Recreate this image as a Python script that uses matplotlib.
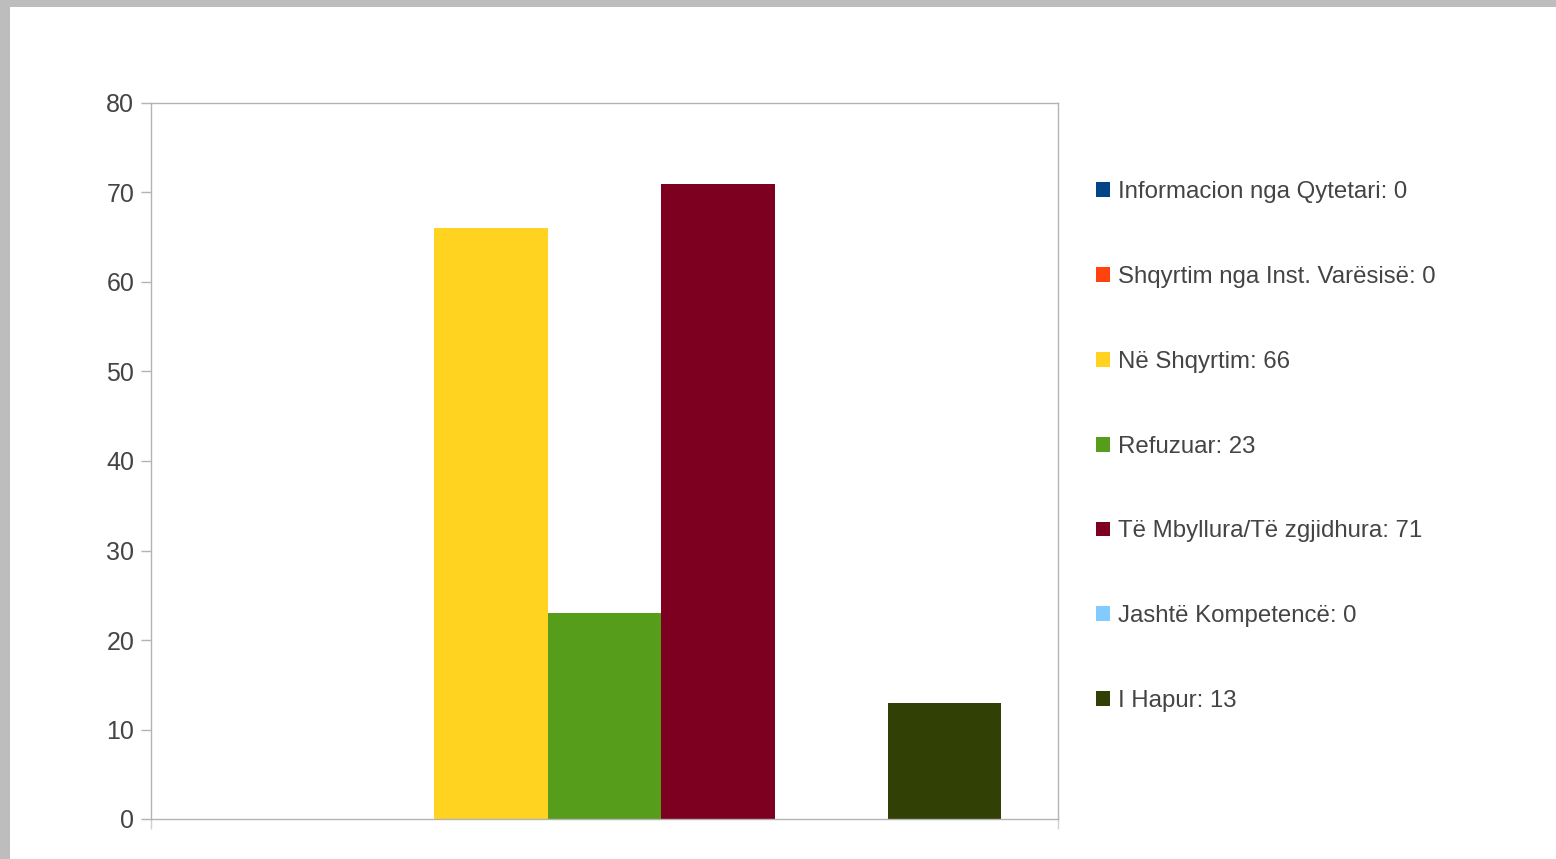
import numpy as np
import matplotlib.pyplot as plt
from matplotlib.patches import Rectangle

plt.rcParams['font.family'] = ['Liberation Sans', 'DejaVu Sans']

categories = ['Informacion nga Qytetari', 'Shqyrtim nga Inst. Varësisë', 'Në Shqyrtim',
              'Refuzuar', 'Të Mbyllura/Të zgjidhura', 'Jashtë Kompetencë', 'I Hapur']
values = [0, 0, 66, 23, 71, 0, 13]
colors = ['#004586', '#ff420e', '#ffd320', '#579d1c', '#7e0021', '#83caff', '#314004']
y_ticks = [0, 10, 20, 30, 40, 50, 60, 70, 80]

W, H = 1556, 859
fig = plt.figure(figsize=(W / 100, H / 100), dpi=100, facecolor='#bdbdbd')
# white page over the grey backdrop
fig.patches.append(Rectangle((10 / W, 0), 1 - 10 / W, (H - 7) / H,
                             transform=fig.transFigure, facecolor='white',
                             edgecolor='none', zorder=-5))

ax = fig.add_axes([151 / W, (H - 819) / H, 907 / W, 716 / H])
ax.set_facecolor('white')

n = len(values)
width = 1 / (n + 1)
for i, (v, c, lab) in enumerate(zip(values, colors, categories)):
    ax.bar((i - (n - 1) / 2) * width, v, width, color=c,
           label=f'{lab}: {v}', linewidth=0)

ax.set_xlim(-0.5, 0.5)
ax.set_ylim(0, 80)
ax.set_yticks(y_ticks)
ax.set_xticks([-0.5, 0.5])
ax.set_xticklabels([])

for s in ax.spines.values():
    s.set_color('#b3b3b3')
    s.set_linewidth(1)
ax.tick_params(axis='y', direction='out', length=7, width=1, color='#b3b3b3',
               labelsize=18, labelcolor='#444444', pad=5)
ax.tick_params(axis='x', direction='out', length=7, width=1, color='#d0d0d0')

leg = ax.legend(loc='upper left', bbox_to_anchor=(1.042, 0.8915), frameon=False,
                fontsize=17.3, labelcolor='#444444', handlelength=0.58,
                handleheight=0.58, handletextpad=0.33, labelspacing=2.62,
                borderaxespad=0, borderpad=0)

fig.savefig('out.png', dpi=100, facecolor=fig.get_facecolor())
